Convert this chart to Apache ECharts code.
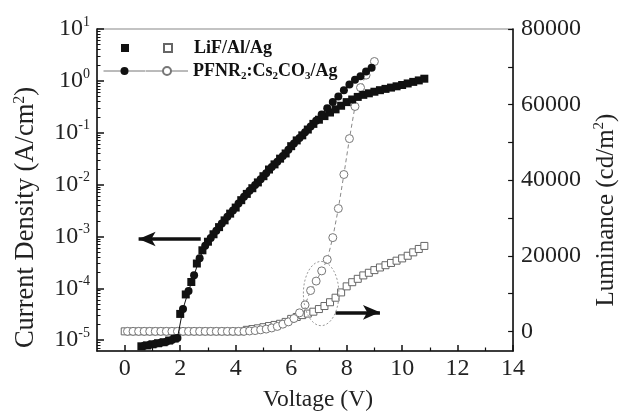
<!DOCTYPE html>
<html><head><meta charset="utf-8">
<script src="https://cdn.jsdelivr.net/npm/echarts@6/dist/echarts.min.js"></script>
<style>html,body{margin:0;padding:0;background:#fff}#c{width:628px;height:417px}</style>
</head><body><div id="c"></div>
<script>
// Current density (A/cm^2), LiF/Al/Ag device (filled squares)
const lifJV = [0.6,0.8,1.0,1.2,1.4,1.6,1.8,2.0,2.2,2.4,2.6,2.8,3.0,3.2,3.4,3.6,3.8,4.0,4.2,4.4,4.6,4.8,5.0,5.2,5.4,5.6,5.8,6.0,6.2,6.4,6.6,6.8,7.0,7.2,7.4,7.6,7.8,8.0,8.2,8.4,8.6,8.8,9.0,9.2,9.4,9.6,9.8,10.0,10.2,10.4,10.6,10.8];
const lifJ = [7.6e-6,7.9e-6,8.3e-6,8.7e-6,9.1e-6,9.8e-6,1.07e-5,3.2e-5,7.6e-5,1.32e-4,3.0e-4,5.4e-4,7.9e-4,1.10e-3,1.51e-3,2.04e-3,2.75e-3,3.6e-3,5.0e-3,6.6e-3,8.5e-3,1.10e-2,1.45e-2,1.95e-2,2.45e-2,3.16e-2,3.98e-2,5.5e-2,7.1e-2,8.9e-2,0.115,0.148,0.178,0.209,0.245,0.282,0.331,0.389,0.437,0.490,0.537,0.575,0.617,0.661,0.700,0.741,0.785,0.832,0.891,0.955,1.02,1.10];
// Current density, PFNR2:Cs2CO3/Ag device (filled circles)
const pfnJV = [0.7,0.9,1.1,1.3,1.5,1.7,1.9,2.1,2.3,2.5,2.7,2.9,3.1,3.3,3.5,3.7,3.9,4.1,4.3,4.5,4.7,4.9,5.1,5.3,5.5,5.7,5.9,6.1,6.3,6.5,6.7,6.9,7.1,7.3,7.5,7.7,7.9,8.1,8.3,8.5,8.7,8.9];
const pfnJ = [7.8e-6,8.1e-6,8.5e-6,8.9e-6,9.3e-6,1.0e-5,1.10e-5,4.0e-5,8.9e-5,1.78e-4,3.8e-4,6.6e-4,9.3e-4,1.29e-3,1.78e-3,2.40e-3,3.16e-3,4.3e-3,5.8e-3,7.6e-3,9.8e-3,1.26e-2,1.66e-2,2.19e-2,2.75e-2,3.55e-2,4.7e-2,6.2e-2,7.9e-2,0.102,0.132,0.170,0.224,0.295,0.389,0.501,0.661,0.851,1.05,1.23,1.51,1.78];
// Luminance (cd/m^2), LiF/Al/Ag (open squares)
const lifLV = [0.0,0.2,0.4,0.6,0.8,1.0,1.2,1.4,1.6,1.8,2.0,2.2,2.4,2.6,2.8,3.0,3.2,3.4,3.6,3.8,4.0,4.2,4.4,4.6,4.8,5.0,5.2,5.4,5.6,5.8,6.0,6.2,6.4,6.6,6.8,7.0,7.2,7.4,7.6,7.8,8.0,8.2,8.4,8.6,8.8,9.0,9.2,9.4,9.6,9.8,10.0,10.2,10.4,10.6,10.8];
const lifL = [0,0,0,0,0,0,0,0,0,0,0,0,0,0,0,0,0,0,0,0,0,0,400,600,800,1100,1400,1700,2000,2500,3300,3800,4300,4700,5200,5900,6700,7700,8900,10300,11900,13000,13900,14800,15500,16200,16900,17500,18100,18700,19300,20000,20900,21800,22600];
// Luminance, PFNR2:Cs2CO3/Ag (open circles)
const pfnLV = [0.1,0.3,0.5,0.7,0.9,1.1,1.3,1.5,1.7,1.9,2.1,2.3,2.5,2.7,2.9,3.1,3.3,3.5,3.7,3.9,4.1,4.3,4.5,4.7,4.9,5.1,5.3,5.5,5.7,5.9,6.1,6.3,6.5,6.7,6.9,7.1,7.3,7.5,7.7,7.9,8.1,8.3,8.5,8.7,9.0];
const pfnL = [0,0,0,0,0,0,0,0,0,0,0,0,0,0,0,0,0,0,0,0,0,0,100,200,400,600,900,1300,1900,2500,3400,4900,7000,10800,13300,16000,19000,24800,32500,41500,51000,59500,64500,67800,71400];

const xTicks = [0,2,4,6,8,10,12,14];
const xMinorTicks = [1,3,5,7,9,11,13];
const leftExps = [-5,-4,-3,-2,-1,0,1];
const rightTicks = [0,20000,40000,60000,80000];
const rightAllTicks = [0,10000,20000,30000,40000,50000,60000,70000,80000];

const F = 'Liberation Serif';
const zip = (a, b, f) => a.map((v, i) => [v, f ? f(b[i]) : b[i]]);
const leftMin = -5.21, leftMax = 1;
const leftMinor = [];
for (let n = -6; n <= 0; n++) for (let k = 2; k <= 9; k++) { const t = n + Math.log10(k); if (t > leftMin && t < leftMax) leftMinor.push(t); }

const chart = echarts.init(document.getElementById('c'), null, {renderer: 'canvas'});
const lg = {
  orient: 'horizontal', padding: 0, itemWidth: 42, itemHeight: 10, itemGap: -5, selectedMode: false,
  textStyle: {fontFamily: F, fontWeight: 'bold', fontSize: 18, color: '#111', lineHeight: 22,
    rich: {s: {fontFamily: F, fontWeight: 'bold', fontSize: 11, lineHeight: 12, verticalAlign: 'bottom', color: '#111'}}}
};
const arrowStyle = {silent: true, symbol: ['none', 'arrow'], symbolSize: [11, 17], label: {show: false},
  lineStyle: {color: '#111', width: 3.5, type: 'solid'}, emphasis: {disabled: true}, animation: false};

chart.setOption({
  animation: false,
  backgroundColor: '#fff',
  grid: {left: 97, right: 112, top: 29, bottom: 61, show: true, borderColor: '#888', borderWidth: 1.2, backgroundColor: 'transparent'},
  legend: [
    Object.assign({}, lg, {left: 103, top: 37, data: ['LiF J', 'LiF/Al/Ag'], formatter: n => n === 'LiF J' ? '' : n}),
    Object.assign({}, lg, {left: 103, top: 60, data: ['PFNR J', 'PFNR2:Cs2CO3/Ag'],
      lineStyle: {color: '#777', width: 1, type: 'solid'},
      formatter: n => n === 'PFNR J' ? '' : 'PFNR{s|2}:Cs{s|2}CO{s|3}/Ag'})
  ],
  xAxis: [
    {type: 'value', min: -1, max: 14, position: 'bottom',
      axisLine: {show: true, onZero: false, lineStyle: {color: '#111', width: 1.5}},
      axisTick: {show: true, inside: true, length: 6, customValues: xTicks, lineStyle: {color: '#111', width: 1.5}},
      axisLabel: {customValues: xTicks, fontFamily: F, fontSize: 24, color: '#222', margin: 6},
      splitLine: {show: false},
      name: 'Voltage (V)', nameLocation: 'middle', nameGap: 37,
      nameTextStyle: {fontFamily: F, fontSize: 23.5, color: '#222', padding: [0, 0, 0, 26]}},
    {type: 'value', min: -1, max: 14, position: 'bottom',
      axisLine: {show: false, onZero: false}, axisLabel: {show: false}, splitLine: {show: false},
      axisTick: {show: true, inside: true, length: 3.5, customValues: xMinorTicks, lineStyle: {color: '#111', width: 1.2}}}
  ],
  yAxis: [
    {type: 'value', min: leftMin, max: leftMax, position: 'left',
      axisLine: {show: true, onZero: false, lineStyle: {color: '#111', width: 1.5}},
      axisTick: {show: true, inside: true, length: 7, customValues: leftExps, lineStyle: {color: '#111', width: 1.5}},
      axisLabel: {customValues: leftExps, margin: 7, fontFamily: F, fontSize: 24, color: '#222', lineHeight: 28,
        formatter: v => '10{p|' + Math.round(v) + '}',
        rich: {p: {fontFamily: F, fontSize: 14, lineHeight: 14, verticalAlign: 'top', color: '#222'}}},
      splitLine: {show: false},
      name: 'Current Density (A/cm{p|2})', nameLocation: 'middle', nameGap: 57, nameRotate: 90,
      nameTextStyle: {fontFamily: F, fontSize: 26.5, color: '#222', lineHeight: 28, padding: [0, 55, 0, 0],
        rich: {p: {fontFamily: F, fontSize: 16, lineHeight: 14, verticalAlign: 'top', color: '#222'}}}},
    {type: 'value', min: -5200, max: 80000, position: 'right',
      axisLine: {show: true, onZero: false, lineStyle: {color: '#111', width: 1.5}},
      axisTick: {show: true, inside: true, length: 5, customValues: rightAllTicks, lineStyle: {color: '#111', width: 1.2}},
      axisLabel: {customValues: rightTicks, margin: 8, fontFamily: F, fontSize: 24, color: '#222',
        formatter: v => String(Math.round(v))},
      splitLine: {show: false},
      name: 'Luminance (cd/m{p|2})', nameLocation: 'middle', nameGap: 77, nameRotate: 90,
      nameTextStyle: {fontFamily: F, fontSize: 25, color: '#222', lineHeight: 28, padding: [0, 40, 0, 0],
        rich: {p: {fontFamily: F, fontSize: 15, lineHeight: 14, verticalAlign: 'top', color: '#222'}}}},
    {type: 'value', min: leftMin, max: leftMax, position: 'left',
      axisLine: {show: false, onZero: false}, axisLabel: {show: false}, splitLine: {show: false},
      axisTick: {show: true, inside: true, length: 3.5, customValues: leftMinor, lineStyle: {color: '#111', width: 1}}}
  ],
  series: [
    {name: 'LiF J', type: 'line', xAxisIndex: 0, yAxisIndex: 0, data: zip(lifJV, lifJ, Math.log10),
      symbol: 'rect', symbolSize: 8, itemStyle: {color: '#111'}, lineStyle: {opacity: 0}, z: 3,
      markLine: Object.assign({}, arrowStyle, {data: [[{coord: [2.74, -3.05]}, {coord: [0.5, -3.05]}]]})},
    {name: 'PFNR J', type: 'line', xAxisIndex: 0, yAxisIndex: 0, data: zip(pfnJV, pfnJ, Math.log10),
      symbol: 'circle', symbolSize: 8, itemStyle: {color: '#111'}, lineStyle: {color: '#111', width: 1}, z: 3},
    {name: 'LiF/Al/Ag', type: 'line', xAxisIndex: 0, yAxisIndex: 1, data: zip(lifLV, lifL),
      symbol: 'rect', symbolSize: 7, itemStyle: {color: '#fff', borderColor: '#666', borderWidth: 1}, lineStyle: {opacity: 0}, z: 2,
      markLine: Object.assign({}, arrowStyle, {data: [[{coord: [7.6, 5030]}, {coord: [9.2, 5030]}]]})},
    {name: 'PFNR2:Cs2CO3/Ag', type: 'line', xAxisIndex: 0, yAxisIndex: 1, data: zip(pfnLV, pfnL),
      symbol: 'circle', symbolSize: 8, itemStyle: {color: '#fff', borderColor: '#777', borderWidth: 1},
      lineStyle: {color: '#888', width: 1, type: [4, 3]}, z: 2}
  ]
});

// dashed ellipse annotation around the luminance kink (data coordinates)
const annV = 7.08, annL = 10000, annDV = 0.64, annDL = 8500;
const c0 = chart.convertToPixel({xAxisIndex: 0, yAxisIndex: 1}, [annV, annL]);
const c1 = chart.convertToPixel({xAxisIndex: 0, yAxisIndex: 1}, [annV + annDV, annL + annDL]);
chart.setOption({graphic: [{type: 'ellipse', silent: true, z: 10,
  shape: {cx: c0[0], cy: c0[1], rx: Math.abs(c1[0] - c0[0]), ry: Math.abs(c0[1] - c1[1])},
  style: {fill: 'none', stroke: '#999', lineWidth: 1, lineDash: [2, 2]}}]});
</script></body></html>
